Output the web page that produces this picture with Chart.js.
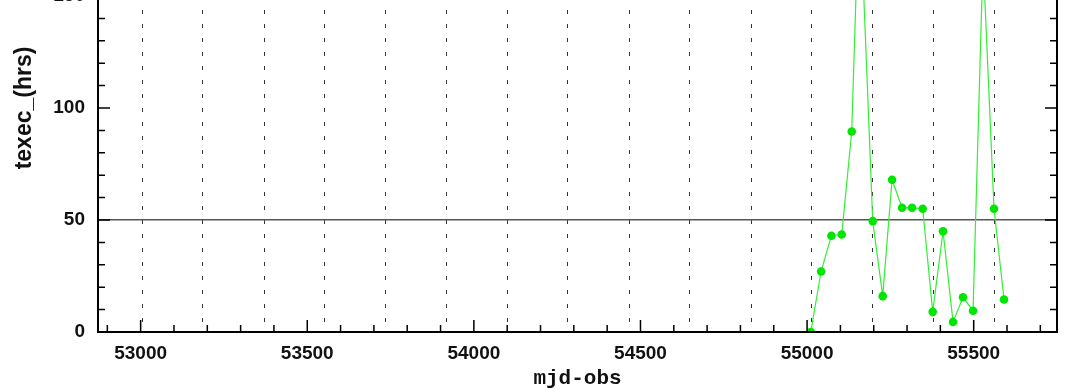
<!DOCTYPE html>
<html>
<head>
<meta charset="utf-8">
<script src="https://cdn.jsdelivr.net/npm/chart.js@4"></script>
<style>
  html, body { margin: 0; padding: 0; background: #fff; overflow: hidden; }
  /* the plot is taller than the window; its top part is cut off like in the reference */
  #wrap { position: absolute; left: 0; top: -130px; width: 1066px; height: 520px; }
</style>
</head>
<body>
<div id="wrap"><canvas id="chart"></canvas></div>
<script>
// --- data ---
const mjdObs   = [55011, 55042, 55073, 55104, 55134, 55157, 55197, 55227, 55255, 55285,
                  55315, 55347, 55377, 55408, 55438, 55468, 55498, 55528, 55561, 55591];
const texecHrs = [0, 27, 43, 43.5, 89.5, 199, 49.5, 16, 68, 55.5,
                  55.5, 55, 9, 45, 4.5, 15.5, 9.5, 167, 55, 14.5];

// dotted markers on 1 Jan / 1 Jul of each year (MJD)
const halfYearMjd = [53005, 53187, 53371, 53552, 53736, 53917, 54101, 54282,
                     54466, 54648, 54832, 55013, 55197, 55378, 55562];

// axes
const xMin = 52872, xMax = 55750;
const yMin = 0, yMax = 200;
const xMajor = [53000, 53500, 54000, 54500, 55000, 55500];
const yMajor = [0, 50, 100, 150, 200];
const xMinorStep = 100, yMinorStep = 10;
const refLevel = 50;

const tickFont = { family: 'Liberation Sans', size: 19, weight: 'bold' };

function stepTicks(lo, hi, step) {
  const out = [];
  for (let v = Math.ceil(lo / step) * step; v <= hi; v += step) out.push({ value: v });
  return out;
}

// inward tick marks on all four sides + box frame
const inwardTicks = {
  id: 'inwardTicks',
  afterDatasetsDraw(chart) {
    const { ctx, chartArea: a, scales } = chart;
    ctx.save();
    ctx.strokeStyle = '#000';
    ctx.lineWidth = 1.5;
    ctx.beginPath();
    scales.x.ticks.forEach(t => {
      const px = scales.x.getPixelForValue(t.value);
      const len = xMajor.includes(t.value) ? 12 : 7;
      ctx.moveTo(px, a.bottom); ctx.lineTo(px, a.bottom - len);
      ctx.moveTo(px, a.top); ctx.lineTo(px, a.top + len);
    });
    scales.y.ticks.forEach(t => {
      const py = scales.y.getPixelForValue(t.value);
      const len = yMajor.includes(t.value) ? 12 : 7;
      ctx.moveTo(a.left, py); ctx.lineTo(a.left + len, py);
      ctx.moveTo(a.right, py); ctx.lineTo(a.right - len, py);
    });
    ctx.stroke();
    ctx.lineWidth = 2;
    ctx.strokeRect(a.left, a.top, a.right - a.left, a.bottom - a.top);
    ctx.restore();
  }
};

new Chart(document.getElementById('chart'), {
  type: 'line',
  data: {
    datasets: [{
      data: mjdObs.map((x, i) => ({ x: x, y: texecHrs[i] })),
      borderColor: '#33ee33',
      borderWidth: 1.2,
      pointRadius: 4.3,
      pointBackgroundColor: '#00e600',
      pointBorderWidth: 0,
      tension: 0
    }]
  },
  options: {
    responsive: true,
    maintainAspectRatio: false,
    animation: false,
    layout: { padding: { top: 14, right: 9, left: 0, bottom: 0 } },
    plugins: { legend: { display: false }, tooltip: { enabled: false } },
    scales: {
      x: {
        type: 'linear', position: 'bottom', min: xMin, max: xMax,
        afterBuildTicks: s => { s.ticks = stepTicks(xMin, xMax, xMinorStep); },
        afterFit: s => { s.height = 58; s.paddingLeft = 0; s.paddingRight = 0; },
        grid: { display: false },
        border: { display: false },
        ticks: {
          autoSkip: false, maxRotation: 0, padding: 2, color: '#111', font: tickFont,
          callback: v => xMajor.includes(v) ? String(v) : ''
        },
        title: {
          display: true, text: 'mjd-obs', color: '#111',
          font: { family: 'Liberation Mono', size: 21, weight: 'bold', lineHeight: 1.1 },
          padding: { top: 0, bottom: 0 }
        }
      },
      x2: {
        type: 'linear', position: 'top', min: xMin, max: xMax,
        afterBuildTicks: s => { s.ticks = halfYearMjd.map(v => ({ value: v })); },
        afterFit: s => { s.height = 0; s.paddingLeft = 0; s.paddingRight = 0; },
        ticks: { display: false },
        grid: { drawTicks: false, color: '#333', lineWidth: 1 },
        border: { display: false, dash: [4, 10] }
      },
      y: {
        min: yMin, max: yMax,
        afterBuildTicks: s => { s.ticks = stepTicks(yMin, yMax, yMinorStep); },
        afterFit: s => { s.width = 98; s.paddingTop = 0; s.paddingBottom = 0; },
        grid: {
          drawTicks: false, lineWidth: 1.5,
          color: c => (c.tick && c.tick.value === refLevel) ? '#555' : 'rgba(0,0,0,0)'
        },
        border: { display: false },
        ticks: {
          autoSkip: false, padding: 13, color: '#111', font: tickFont,
          callback: v => yMajor.includes(v) ? String(v) : ''
        },
        title: {
          display: true, text: 'texec_(hrs)', color: '#111',
          font: { family: 'Liberation Sans', size: 23, weight: 'bold', lineHeight: 1.2 },
          padding: { top: 11, bottom: 0 }
        }
      }
    }
  },
  plugins: [inwardTicks]
});
</script>
</body>
</html>
